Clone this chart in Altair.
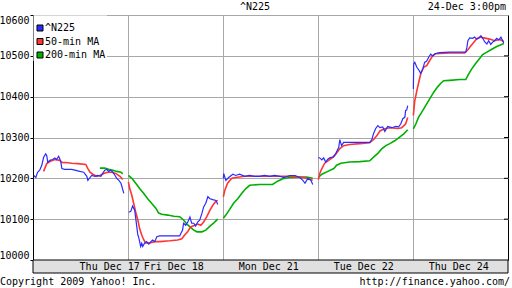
import altair as alt
import pandas as pd

FONT = "DejaVu Sans Mono"
SERIES = ["^N225", "50-min MA", "200-min MA"]
COLORS = ["#2b2bff", "#ff3535", "#00b000"]
DAY_LABELS = ["Thu Dec 17", "Fri Dec 18", "Mon Dec 21", "Tue Dec 22", "Thu Dec 24"]
DAY_LABEL_POS = [218, 400, 670, 940, 1210]   # trading minutes (270 per day)
DAY_BOUNDS = [270, 540, 810, 1080]
Y_TICKS = [10000, 10100, 10200, 10300, 10400, 10500, 10600]
MINUTES_PER_DAY = 270

# ^N225 — minute of session and price, one list per trading day
N225_MIN = [
    [2, 8, 13, 19, 25, 30, 36, 39, 42, 48, 56, 62, 67, 73, 79, 82, 90, 110, 119, 133,
     144, 153, 156, 162, 167, 176, 184, 193, 198, 204, 210, 215, 221, 227, 233, 238, 244, 250, 255, 258],
    [2, 8, 11, 13, 16, 19, 22, 25, 28, 30, 33, 36, 39, 42, 47, 53, 59, 65, 70, 76, 82, 90,
     119, 147, 150, 155, 158, 164, 170, 176, 181, 187, 192, 198, 204, 210, 215, 221, 227, 233, 241, 250, 255],
    [1, 2, 8, 16, 28, 36, 47, 62, 75, 90, 104, 118, 133, 147, 161, 173, 190, 205, 218, 227, 233, 241, 250, 255],
    [1, 5, 11, 16, 22, 28, 33, 42, 50, 59, 62, 67, 73, 79, 104, 147, 153, 158, 164, 170, 176,
     184, 190, 198, 210, 221, 229, 235, 241, 247, 249, 252, 255],
    [1, 2, 5, 11, 16, 22, 28, 33, 39, 45, 50, 56, 62, 76, 104, 150, 153, 156, 161, 170, 175,
     181, 187, 193, 198, 204, 210, 215, 221, 227, 232, 238, 244, 250, 255, 258],
]
N225_VAL = [
    [10207, 10202, 10215, 10220, 10232, 10251, 10260, 10256, 10239, 10244, 10246, 10250, 10246, 10254,
     10241, 10224, 10222, 10222, 10220, 10217, 10215, 10205, 10195, 10202, 10207, 10205, 10207, 10205,
     10212, 10220, 10222, 10217, 10220, 10215, 10207, 10200, 10195, 10188, 10173, 10163],
    [10117, 10119, 10127, 10132, 10127, 10122, 10102, 10081, 10061, 10057, 10045, 10033, 10041, 10033,
     10041, 10045, 10039, 10045, 10049, 10045, 10057, 10059, 10059, 10059, 10065, 10073, 10090, 10085,
     10093, 10105, 10090, 10090, 10083, 10093, 10098, 10114, 10130, 10139, 10155, 10150, 10148, 10146, 10136],
    [10200, 10212, 10195, 10202, 10210, 10207, 10210, 10205, 10207, 10205, 10205, 10207, 10205, 10207,
     10205, 10202, 10207, 10207, 10202, 10195, 10188, 10200, 10195, 10185],
    [10251, 10250, 10245, 10250, 10240, 10247, 10250, 10252, 10260, 10276, 10295, 10280, 10288, 10288,
     10288, 10288, 10295, 10310, 10322, 10329, 10324, 10326, 10315, 10327, 10324, 10327, 10326, 10333,
     10346, 10350, 10366, 10367, 10378],
    [10419, 10480, 10484, 10472, 10466, 10457, 10468, 10484, 10487, 10497, 10504, 10500, 10505, 10508,
     10509, 10509, 10520, 10537, 10544, 10543, 10546, 10541, 10543, 10549, 10543, 10534, 10529, 10537,
     10528, 10534, 10537, 10543, 10539, 10546, 10537, 10531],
]

# 50-minute moving average
MA50_MIN = [
    [30, 39, 48, 62, 76, 82, 99, 110, 127, 150, 156, 162, 170, 181, 190, 201, 212, 224, 235, 247, 255],
    [1, 5, 11, 16, 22, 28, 33, 39, 45, 50, 62, 76, 90, 119, 141, 153, 161, 170, 178, 190, 198,
     207, 215, 224, 233, 241, 250, 255],
    [1, 5, 13, 25, 36, 62, 104, 190, 218, 241, 255],
    [1, 5, 11, 19, 28, 36, 45, 53, 62, 73, 90, 119, 147, 158, 167, 176, 187, 204, 227, 238, 249, 255],
    [1, 5, 11, 16, 22, 30, 39, 47, 56, 64, 76, 104, 147, 156, 164, 173, 181, 190, 201, 218, 232, 247, 258],
]
MA50_VAL = [
    [10217, 10236, 10241, 10246, 10244, 10239, 10238, 10237, 10236, 10234, 10224, 10215, 10210, 10205,
     10207, 10212, 10215, 10215, 10212, 10205, 10197],
    [10191, 10175, 10158, 10139, 10117, 10098, 10077, 10061, 10049, 10042, 10042, 10045, 10045, 10047,
     10049, 10052, 10061, 10070, 10081, 10085, 10088, 10085, 10093, 10106, 10122, 10134, 10144, 10146],
    [10155, 10170, 10188, 10200, 10202, 10205, 10205, 10205, 10203, 10200, 10195],
    [10197, 10212, 10224, 10237, 10243, 10248, 10253, 10262, 10273, 10280, 10283, 10285, 10287, 10295,
     10304, 10316, 10321, 10324, 10322, 10324, 10333, 10349],
    [10354, 10390, 10415, 10434, 10456, 10472, 10476, 10488, 10500, 10505, 10506, 10507, 10507, 10515,
     10524, 10533, 10542, 10546, 10544, 10541, 10537, 10540, 10535],
]

# 200-minute moving average
MA200_MIN = [
    [190, 204, 215, 227, 238, 250, 255],
    [1, 11, 22, 33, 45, 56, 67, 79, 87, 96, 113, 130, 147, 158, 167, 176, 187, 196, 210, 221, 233, 244, 255],
    [1, 8, 19, 30, 42, 53, 65, 76, 104, 141, 155, 170, 190, 218, 238, 255],
    [1, 11, 28, 45, 53, 65, 90, 119, 147, 158, 170, 181, 193, 204, 218, 232, 244, 255],
    [1, 8, 16, 25, 36, 47, 59, 70, 79, 87, 104, 133, 150, 158, 167, 178, 190, 198, 210, 224, 238, 252, 258],
]
MA200_VAL = [
    [10225, 10225, 10222, 10220, 10217, 10215, 10211],
    [10207, 10200, 10188, 10175, 10163, 10150, 10139, 10127, 10115, 10112, 10110, 10107, 10106, 10098,
     10088, 10081, 10073, 10069, 10069, 10073, 10083, 10091, 10100],
    [10102, 10110, 10124, 10139, 10150, 10163, 10175, 10183, 10185, 10185, 10193, 10199, 10202, 10203,
     10203, 10200],
    [10202, 10210, 10217, 10224, 10232, 10237, 10240, 10241, 10243, 10252, 10261, 10272, 10280, 10285,
     10292, 10301, 10309, 10319],
    [10321, 10333, 10350, 10362, 10378, 10394, 10411, 10424, 10433, 10439, 10440, 10442, 10442, 10455,
     10468, 10481, 10494, 10503, 10509, 10516, 10523, 10528, 10530],
]

rows = []
for name, mins, vals in [(SERIES[0], N225_MIN, N225_VAL),
                         (SERIES[1], MA50_MIN, MA50_VAL),
                         (SERIES[2], MA200_MIN, MA200_VAL)]:
    for d, (ms, vs) in enumerate(zip(mins, vals)):
        for m, v in zip(ms, vs):
            rows.append({"series": name, "day": d, "t": d * MINUTES_PER_DAY + m, "price": v})
df = pd.DataFrame(rows)

W, H = 475, 245
GRID = "#a8a8a8"

x_enc = alt.X("t:Q", scale=alt.Scale(domain=[0, 5 * MINUTES_PER_DAY], nice=False, zero=False),
              axis=alt.Axis(values=DAY_BOUNDS, grid=True, gridColor=GRID, gridWidth=1,
                            labels=False, ticks=True, tickColor=GRID, tickSize=3,
                            domain=False, title=None))
y_enc = alt.Y("price:Q", scale=alt.Scale(domain=[10000, 10600], nice=False, zero=False),
              axis=alt.Axis(values=Y_TICKS, grid=True, gridColor=GRID, gridWidth=1,
                            ticks=True, tickColor="black", tickSize=3, domain=False,
                            labelFlush=True, labelFont=FONT, labelFontSize=10, format="d",
                            labelColor="black", labelPadding=1, title=None))
color_enc = alt.Color("series:N", scale=alt.Scale(domain=SERIES, range=COLORS), legend=None)

base = alt.Chart(df)
lines = []
for name, sw in [(SERIES[2], 1.6), (SERIES[1], 1.6), (SERIES[0], 1.2)]:
    lines.append(
        base.transform_filter(alt.datum.series == name)
        .mark_line(strokeWidth=sw)
        .encode(x=x_enc, y=y_enc, color=color_enc, detail="day:N")
    )

one = pd.DataFrame({"k": [0]})

# right-side inner ticks
rticks = alt.Chart(pd.DataFrame({"price": Y_TICKS[1:-1]})).mark_rule(color="black", strokeWidth=1).encode(
    y=alt.Y("price:Q"), x=alt.value(W - 4), x2=alt.value(W))

# date band under the plot
band = alt.Chart(one).mark_rect(fill="#e0e0e0", stroke="black", strokeWidth=1).encode(
    x=alt.value(0), x2=alt.value(W), y=alt.value(H), y2=alt.value(H + 13))
day_text = alt.Chart(pd.DataFrame({"label": DAY_LABELS, "t": DAY_LABEL_POS})).mark_text(
    font=FONT, fontSize=10, color="black", baseline="middle", align="center").encode(
    x=alt.X("t:Q"), y=alt.value(H + 7), text="label:N")

# legend (manual, as in the original image)
leg_bg = alt.Chart(one).mark_rect(fill="white").encode(
    x=alt.value(0.5), x2=alt.value(74), y=alt.value(0.5), y2=alt.value(46))
leg = [leg_bg]
for i, (name, col) in enumerate(zip(SERIES, COLORS)):
    yy = 13 + 13.5 * i
    d1 = pd.DataFrame({"series": [name]})
    leg.append(alt.Chart(d1).mark_square(size=36, fill=col, stroke="black", strokeWidth=1,
                                         filled=True, opacity=1).encode(x=alt.value(7), y=alt.value(yy)))
    leg.append(alt.Chart(d1).mark_text(font=FONT, fontSize=10, color="black", align="left",
                                       baseline="middle").encode(x=alt.value(12), y=alt.value(yy),
                                                                  text="series:N"))

# header and footer texts
def label(txt, xv, yv, align):
    return alt.Chart(pd.DataFrame({"s": [txt]})).mark_text(
        font=FONT, fontSize=10, color="black", align=align, baseline="middle").encode(
        x=alt.value(xv), y=alt.value(yv), text="s:N")

texts = [
    label("^N225", 222, -8, "center"),
    label("24-Dec 3:00pm", 473, -8, "right"),
    label("Copyright 2009 Yahoo! Inc.", -33, 267, "left"),
    label("http://finance.yahoo.com/", 477, 267, "right"),
]

chart = alt.layer(*lines, rticks, band, day_text, *leg, *texts).properties(
    width=W, height=H,
    autosize=alt.AutoSizeParams(type="none"),
    padding={"left": 33, "top": 15, "right": 4, "bottom": 28},
    background="white",
).configure_view(stroke="black", strokeWidth=1).configure_axis(labelFont=FONT)

chart.save("out.html", embed_options={"renderer": "svg", "actions": False})
